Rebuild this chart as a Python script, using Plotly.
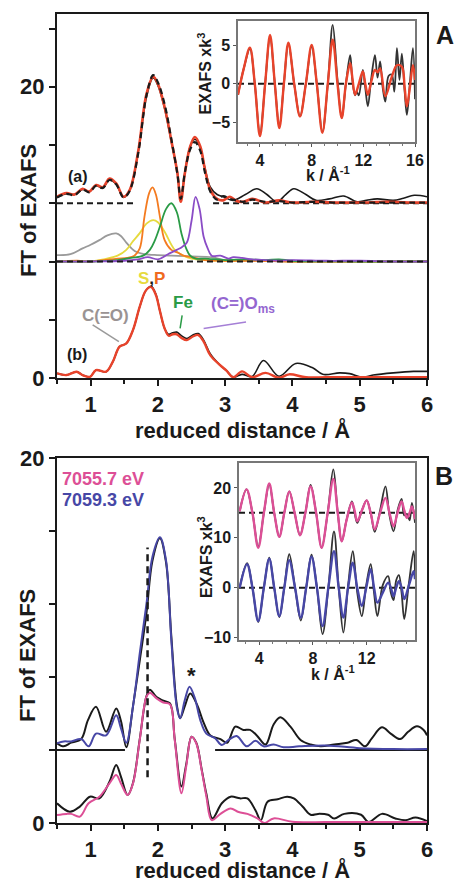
import plotly.graph_objects as go

# ---------------- DATA ----------------
# Panel A main (reduced distance / Å)
r_a_fit = [0.5, 0.64, 0.76, 0.88, 0.98, 1.08, 1.18, 1.28, 1.38, 1.49, 1.58, 1.71, 1.83, 1.93, 2.0, 2.1, 2.2, 2.29, 2.34, 2.4,
           2.48, 2.55, 2.63, 2.7, 2.78, 2.88, 2.97, 3.07, 3.17, 3.27, 3.4, 3.6, 3.8, 4.0, 4.3, 4.6, 5.0, 5.4, 5.8, 6.0]
fit_a = [12.45, 12.7, 12.6, 13.0, 12.8, 13.25, 13.1, 13.7, 13.36, 12.45, 12.9, 15.65, 19.5, 20.7, 20.2, 18.6, 16.3, 14.05, 12.1, 14.05,
         15.9, 16.55, 15.9, 14.3, 12.9, 12.3, 12.2, 12.45, 12.15, 12.1, 12.3, 12.05, 12.2, 12.05, 12.1, 12.05, 12.05, 12.1, 12.05, 12.05]
dfit_a = [12.4, 12.65, 12.55, 12.95, 12.75, 13.2, 13.05, 13.6, 13.3, 12.4, 12.85, 15.5, 19.4, 20.8, 20.3, 18.8, 16.4, 14.0, 12.3, 14.1,
          15.7, 16.2, 15.6, 14.1, 12.8, 12.25, 12.5, 12.3, 12.2, 12.1, 12.25, 12.1, 12.15, 12.05, 12.1, 12.05, 12.05, 12.05, 12.05, 12.05]
r_a_dat = [0.5, 0.64, 0.76, 0.88, 0.98, 1.08, 1.18, 1.28, 1.38, 1.49, 1.58, 1.71, 1.83, 1.93, 2.0, 2.1, 2.2, 2.29, 2.34, 2.4,
           2.48, 2.55, 2.63, 2.7, 2.78, 2.88, 2.97, 3.12, 3.3, 3.47, 3.62, 3.77, 3.9, 4.02, 4.2, 4.35, 4.55, 4.76, 4.96, 5.1,
           5.26, 5.5, 5.65, 5.81, 6.0]
dat_a = [12.4, 12.65, 12.6, 12.95, 12.8, 13.2, 13.05, 13.6, 13.3, 12.4, 12.9, 15.6, 19.3, 20.6, 20.1, 18.5, 16.2, 14.1, 12.2, 14.1,
         15.9, 16.4, 15.8, 14.4, 13.1, 12.6, 12.45, 12.2, 12.6, 13.0, 12.6, 12.1, 12.6, 13.0, 12.6, 12.2, 12.3, 12.5, 12.1, 12.2,
         12.3, 12.2, 12.35, 12.55, 12.45]

# components (offset 8)
r_or = [0.5, 0.8, 1.0, 1.2, 1.4, 1.55, 1.65, 1.73, 1.8, 1.87, 1.92, 1.97, 2.03, 2.1, 2.2, 2.3, 2.38, 2.5, 2.7, 3.0, 3.5, 4.0, 5.0, 6.0]
v_or = [8.0, 8.05, 8.0, 8.1, 8.2, 8.25, 8.4, 8.9, 11.07, 12.7, 13.09, 12.6, 11.07, 9.47, 8.8, 8.6, 8.4, 8.3, 8.1, 8.05, 8.05, 8.0, 8.0, 8.0]
r_ye = [0.5, 1.0, 1.2, 1.4, 1.53, 1.63, 1.73, 1.83, 1.93, 2.0, 2.1, 2.25, 2.38, 2.5, 2.7, 3.0, 3.5, 4.0, 5.0, 6.0]
v_ye = [8.0, 8.0, 8.15, 8.4, 8.8, 9.4, 9.95, 10.6, 10.84, 10.7, 10.04, 8.8, 8.4, 8.2, 8.1, 8.05, 8.1, 8.0, 8.0, 8.0]
r_gr = [0.5, 1.0, 1.4, 1.6, 1.78, 1.88, 1.95, 2.03, 2.12, 2.2, 2.28, 2.35, 2.42, 2.48, 2.56, 2.7, 3.0, 3.3, 3.6, 3.8, 4.0, 5.0, 6.0]
v_gr = [8.0, 8.0, 8.1, 8.25, 8.4, 8.8, 9.4, 10.4, 11.6, 12.0, 11.4, 9.93, 8.9, 8.4, 8.2, 8.2, 8.1, 8.15, 8.1, 8.15, 8.05, 8.0, 8.0]
r_pu = [0.5, 1.0, 1.5, 1.7, 1.85, 2.0, 2.15, 2.28, 2.36, 2.43, 2.5, 2.56, 2.62, 2.68, 2.74, 2.8, 2.93, 3.05, 3.12, 3.25,
        3.4, 3.6, 3.8, 4.0, 4.5, 5.0, 5.5, 6.0]
v_pu = [8.0, 8.0, 8.05, 8.15, 8.3, 8.15, 8.5, 8.8, 9.0, 9.3, 10.8, 12.44, 11.6, 9.7, 8.9, 8.4, 8.4, 8.2, 8.3, 8.25,
        8.15, 8.1, 8.05, 8.1, 8.05, 8.05, 8.0, 8.0]
r_gy = [0.5, 0.7, 0.88, 1.0, 1.13, 1.25, 1.38, 1.45, 1.53, 1.66, 1.8, 1.95, 2.2, 2.5, 2.8, 3.0, 3.5, 4.0, 6.0]
v_gy = [8.44, 8.5, 8.9, 9.15, 9.47, 9.8, 9.93, 9.75, 9.3, 8.7, 8.5, 8.45, 8.4, 8.35, 8.3, 8.1, 8.05, 8.0, 8.0]

# curve (b)
r_b_fit = [0.5, 0.64, 0.79, 0.88, 0.99, 1.08, 1.23, 1.33, 1.43, 1.53, 1.63, 1.73, 1.82, 1.9, 1.97, 2.03, 2.1, 2.16, 2.22, 2.28,
           2.35, 2.43, 2.52, 2.6, 2.68, 2.78, 2.92, 3.02, 3.12, 3.25, 3.4, 3.6, 3.8, 3.95, 4.2, 4.5, 5.0, 5.5, 6.0]
fit_b = [0.32, 0.2, 0.43, 0.2, 0.08, 0.54, 0.43, 1.12, 2.15, 2.37, 3.3, 4.9, 6.0, 6.25, 5.7, 4.6, 3.4, 2.9, 3.0, 3.0,
         2.75, 2.6, 2.85, 2.95, 2.5, 1.55, 0.9, 0.5, 0.05, 0.45, 0.05, 0.35, 0.02, 0.25, 0.05, 0.05, 0.05, 0.05, 0.05]
r_b_dat = [0.5, 0.64, 0.79, 0.88, 0.99, 1.08, 1.23, 1.33, 1.43, 1.53, 1.63, 1.73, 1.82, 1.9, 1.97, 2.03, 2.1, 2.16, 2.22, 2.28,
           2.35, 2.43, 2.52, 2.6, 2.68, 2.78, 2.92, 3.02, 3.12, 3.25, 3.4, 3.57, 3.8, 4.05, 4.3, 4.45, 4.7, 4.85, 5.03, 5.2,
           5.5, 5.8, 6.0]
dat_b = [0.32, 0.2, 0.43, 0.2, 0.08, 0.54, 0.43, 1.12, 2.15, 2.37, 3.3, 4.9, 6.0, 6.3, 5.75, 4.6, 3.4, 3.0, 3.1, 3.15,
         2.9, 2.7, 2.95, 3.05, 2.6, 1.65, 0.9, 0.5, 0.05, 0.25, 0.1, 1.2, 0.12, 1.0, 0.7, 0.25, 0.35, 0.3, 0.05, 0.2,
         0.35, 0.45, 0.45]

# baselines / leader lines (panel A)
base_a_up = 12
base_a_up_r1 = [0.5, 1.63]
base_a_up_r2 = [2.82, 6.0]
base_a_comp = 8
base_a_comp_r = [0.5, 6.0]
lead_co_r, lead_co_v = [1.03, 1.42], [3.64, 2.5]
lead_fe_r, lead_fe_v = [2.36, 2.33], [4.3, 3.4]
lead_ms_r, lead_ms_v = [3.31, 2.68], [3.85, 3.4]

# Inset A (k / Å^-1)
k_a_fit = [2.3, 2.75, 3.22, 3.6, 4.0, 4.4, 4.78, 5.15, 5.5, 5.85, 6.2, 6.65, 7.1, 7.55, 8.0, 8.4, 8.83, 9.25, 9.63, 10.0,
           10.33, 10.65, 10.98, 11.15, 11.36, 11.65, 11.96, 12.15, 12.35, 12.6, 12.9, 13.1, 13.3, 13.7, 14.2, 14.6, 14.98,
           15.2, 15.37, 15.6, 15.84, 16.0]
exafs_a_fit = [-1.4, 2.0, 4.66, 0.0, -6.75, 0.0, 6.3, 0.0, -5.7, 0.0, 5.3, 0.0, -4.2, 0.0, 5.0, 0.0, -6.3, 0.0, 5.7, 0.0,
               -4.4, 0.0, 2.65, 0.8, -1.4, 0.0, 1.6, 0.0, -1.4, 0.2, 1.8, 1.5, 2.0, -1.6, 0.9, 2.4, 2.2, -0.5, -2.9, -0.5,
               2.4, 0.5]
k_a_dat = [2.3, 2.75, 3.22, 3.6, 4.0, 4.4, 4.78, 5.15, 5.5, 5.85, 6.2, 6.65, 7.1, 7.55, 8.0, 8.4, 8.83, 9.25, 9.63, 10.0,
           10.33, 10.65, 10.98, 11.15, 11.36, 11.5, 11.65, 11.96, 12.15, 12.35, 12.6, 12.9, 13.1, 13.3, 13.5, 13.7, 13.95,
           14.2, 14.4, 14.6, 14.8, 14.98, 15.2, 15.37, 15.6, 15.84, 16.0]
exafs_a_dat = [-1.4, 2.0, 4.5, 0.0, -6.5, 0.0, 6.1, 0.0, -5.5, 0.0, 5.2, 0.0, -4.2, 0.0, 4.8, 0.0, -6.2, 0.0, 7.6, 0.5,
               -4.4, 0.0, 3.7, 0.5, -1.5, -1.0, -1.5, 1.8, -0.5, -2.9, 0.5, 3.7, 0.8, 2.9, -0.5, -2.3, 1.0, 1.2, -1.0, 4.6,
               0.5, 3.9, -1.0, -4.0, 0.0, 4.6, -2.0]
inset_a_zero_k = [2.3, 16.0]

# Panel B main
r_up = [0.5, 0.6, 0.71, 0.86, 0.97, 1.08, 1.23, 1.38, 1.45, 1.53, 1.63, 1.73, 1.83, 1.92, 2.03, 2.12, 2.2, 2.28, 2.33, 2.4,
        2.47, 2.55, 2.63, 2.72, 2.85, 2.95, 3.05, 3.17, 3.32, 3.45, 3.57, 3.72, 3.87, 4.1, 4.5, 5.0, 5.5, 6.0]
blue_up = [4.37, 4.47, 4.47, 4.6, 4.2, 4.9, 4.8, 5.9, 5.2, 4.4, 6.4, 9.3, 12.0, 14.6, 15.65, 14.4, 10.0, 6.37, 5.74, 6.74,
           7.47, 6.83, 5.64, 4.9, 4.64, 4.27, 4.55, 4.77, 4.2, 4.5, 4.2, 4.3, 4.15, 4.2, 4.25, 4.1, 4.05, 4.05]
r_up_dat = [0.5, 0.6, 0.71, 0.86, 0.96, 1.08, 1.23, 1.38, 1.45, 1.53, 1.63, 1.73, 1.83, 1.92, 2.03, 2.12, 2.2, 2.28, 2.33, 2.4,
            2.48, 2.58, 2.68, 2.78, 2.93, 3.03, 3.15, 3.27, 3.37, 3.47, 3.6, 3.72, 3.82, 3.97, 4.12, 4.27, 4.42, 4.62, 4.82,
            4.95, 5.08, 5.18, 5.33, 5.46, 5.6, 5.72, 5.85, 5.95, 6.0]
black_up = [4.37, 4.2, 4.4, 4.6, 5.64, 6.37, 5.0, 6.28, 5.6, 4.15, 6.4, 8.9, 11.5, 14.4, 15.6, 14.3, 10.2, 6.5, 5.74, 6.4,
            7.1, 6.5, 5.5, 4.8, 4.6, 4.4, 5.28, 5.1, 5.1, 4.8, 4.3, 5.4, 5.79, 5.28, 4.55, 4.3, 4.2, 4.3, 4.4,
            4.55, 4.2, 4.64, 5.24, 4.9, 4.6, 5.0, 5.3, 5.1, 4.8]
r_lo = [0.5, 0.64, 0.71, 0.84, 0.97, 1.13, 1.28, 1.38, 1.45, 1.55, 1.63, 1.73, 1.83, 1.88, 1.98, 2.08, 2.18, 2.25, 2.35, 2.42,
        2.5, 2.57, 2.65, 2.72, 2.8, 2.93, 3.08, 3.2, 3.33, 3.48, 3.58, 3.72, 4.0, 4.5, 5.0, 5.5, 6.0]
pink_lo = [0.44, 0.5, 0.5, 0.35, 1.08, 1.44, 2.17, 2.63, 2.17, 1.53, 2.17, 4.55, 6.92, 7.14, 6.83, 6.6, 6.5, 4.55, 1.63, 3.08,
           4.73, 4.37, 2.9, 1.46, 0.16, 0.5, 0.8, 0.6, 0.5, 0.25, 0.0, 0.25, 0.07, 0.05, 0.05, 0.05, 0.05]
r_lo_dat = [0.5, 0.69, 0.84, 0.99, 1.13, 1.28, 1.38, 1.45, 1.55, 1.63, 1.73, 1.83, 1.88, 1.98, 2.08, 2.18, 2.25, 2.35, 2.42, 2.5,
            2.57, 2.65, 2.72, 2.81, 2.95, 3.08, 3.22, 3.33, 3.45, 3.53, 3.63, 3.78, 3.92, 4.02, 4.15, 4.27, 4.38, 4.53, 4.62,
            4.77, 5.02, 5.13, 5.33, 5.53, 5.68, 5.83, 6.0]
black_lo = [1.08, 0.62, 0.9, 1.44, 1.35, 2.26, 3.18, 2.54, 1.53, 2.2, 4.6, 6.95, 7.3, 6.9, 6.7, 6.55, 4.6, 2.0, 3.2, 4.73,
            4.4, 2.95, 1.6, 0.25, 1.08, 1.44, 1.35, 1.35, 0.7, 0.15, 1.17, 1.3, 1.44, 1.35, 0.9, 0.45, 0.5, 0.45, 0.25,
            0.5, 0.45, 0.05, 0.5, 0.25, 0.15, 0.3, 0.1]
base_b_up = 4
base_b_r1 = [0.5, 1.51]
base_b_r2 = [2.85, 6.0]
vline_b_r = [1.846, 1.846]
vline_b_v = [2.5, 15.1]

# Inset B
k_b_pink = [2.55, 3.06, 3.5, 3.93, 4.35, 4.75, 5.12, 5.5, 5.87, 6.24, 6.64, 7.04, 7.44, 7.83, 8.24, 8.65, 9.1, 9.52, 9.85, 10.15,
            10.5, 10.9, 11.1, 11.3, 11.65, 12.0, 12.3, 12.6, 13.0, 13.4, 13.7, 14.0, 14.3, 14.6, 14.8, 15.0, 15.2, 15.37, 15.6]
exafs_b_pink = [15.3, 19.7, 15.0, 8.0, 15.0, 20.9, 15.0, 10.2, 15.0, 19.3, 15.0, 10.5, 15.0, 20.3, 15.0, 8.0, 15.0, 21.8, 15.0, 9.3,
                13.5, 17.1, 15.5, 13.3, 15.5, 17.5, 15.0, 11.7, 15.0, 18.0, 15.0, 12.3, 15.0, 17.3, 15.5, 14.0, 15.0, 16.3, 13.7]
exafs_b_pink_dat = [15.3, 19.7, 15.0, 8.2, 15.0, 20.7, 15.0, 10.2, 15.0, 19.3, 15.0, 10.5, 15.0, 20.6, 15.0, 8.0, 15.0, 23.7, 15.0, 9.3,
                    13.5, 17.3, 15.0, 13.0, 15.5, 17.5, 15.0, 11.2, 15.5, 20.3, 14.5, 11.3, 15.5, 17.8, 14.5, 14.8, 13.5, 17.0, 13.0]
k_b_blue = [2.55, 3.1, 3.5, 3.93, 4.35, 4.75, 5.12, 5.5, 5.87, 6.24, 6.67, 7.1, 7.5, 7.9, 8.3, 8.72, 9.15, 9.57, 9.92, 10.27,
            10.62, 10.97, 11.3, 11.64, 11.97, 12.3, 12.55, 12.8, 13.2, 13.6, 13.8, 14.0, 14.2, 14.4, 14.6, 14.8, 15.15, 15.5, 15.6]
exafs_b_blue = [0.0, 4.7, 0.0, -6.7, 0.0, 5.8, 0.0, -5.7, 0.0, 5.5, 0.0, -6.0, 0.0, 6.2, 0.0, -7.7, 0.0, 7.3, 0.0, -6.0,
                0.0, 5.0, 0.0, -3.7, 0.0, 3.7, 0.0, -3.0, -1.0, 1.0, 0.0, -1.7, 0.0, 1.3, 0.0, -2.3, 0.5, 3.3, 1.7]
exafs_b_blue_dat = [0.0, 4.9, 0.0, -6.9, 0.0, 6.0, 0.0, -5.9, 0.0, 6.7, 0.0, -6.6, 0.0, 6.6, 0.0, -9.3, 0.0, 11.3, 0.0, -9.0,
                    0.5, 7.3, -1.0, -5.7, 0.5, 4.7, -1.0, -5.7, 0.5, 2.3, -1.0, -2.5, 1.5, 2.5, -1.0, -6.3, 1.0, 7.3, 2.0]
inset_b_k = [2.5, 15.6]
inset_b_levels = [15, 0]

# ---------------- STYLE ----------------
FONT = "'Liberation Sans', Arial, Helvetica, sans-serif"
BLACK = "#1a1a1a"
RED = "#E8432B"
ORANGE = "#F47B20"
YELLOW = "#E6DA3E"
GREEN = "#2A9B46"
PURPLE = "#8A4CC6"
GRAY = "#9A9A9A"
PINK = "#DD4F96"
BLUE = "#4747A6"
DASH = "6px,4px"

fig = go.Figure()


def add(x, y, color, width=2.0, dash=None, xa="x", ya="y", shape="spline"):
    fig.add_trace(go.Scatter(x=x, y=y, mode="lines",
                             line=dict(color=color, width=width, dash=dash, shape=shape),
                             xaxis=xa, yaxis=ya, showlegend=False, hoverinfo="skip"))


# Panel A main (x2, y2)
for rr, vv, cc in [(r_gy, v_gy, GRAY), (r_ye, v_ye, YELLOW), (r_or, v_or, ORANGE),
                   (r_gr, v_gr, GREEN), (r_pu, v_pu, PURPLE)]:
    add(rr, vv, cc, 1.8, xa="x2", ya="y2")
add(base_a_comp_r, [base_a_comp] * 2, BLACK, 2, DASH, "x2", "y2", "linear")
add(base_a_up_r1, [base_a_up] * 2, BLACK, 2, DASH, "x2", "y2", "linear")
add(base_a_up_r2, [base_a_up] * 2, BLACK, 2, DASH, "x2", "y2", "linear")
add(r_a_dat, dat_a, BLACK, 1.6, None, "x2", "y2")
add(r_a_fit, fit_a, RED, 2.6, None, "x2", "y2")
add(r_a_fit, dfit_a, BLACK, 2.2, DASH, "x2", "y2")
add(r_b_dat, dat_b, BLACK, 1.6, None, "x2", "y2")
add(r_b_fit, fit_b, RED, 2.4, None, "x2", "y2")
add(lead_co_r, lead_co_v, GRAY, 1.5, None, "x2", "y2", "linear")
add(lead_fe_r, lead_fe_v, GREEN, 1.5, None, "x2", "y2", "linear")
add(lead_ms_r, lead_ms_v, "#A57FD6", 1.5, None, "x2", "y2", "linear")

# Inset A (x3, y3)
add(inset_a_zero_k, [0, 0], BLACK, 2, DASH, "x3", "y3", "linear")
add(k_a_dat, exafs_a_dat, "#333333", 1.8, None, "x3", "y3")
add(k_a_fit, exafs_a_fit, RED, 2.4, None, "x3", "y3")

# Panel B main (x, y)
add(base_b_r1, [base_b_up] * 2, BLACK, 1.8, None, "x", "y", "linear")
add(base_b_r2, [base_b_up] * 2, BLACK, 1.8, None, "x", "y", "linear")
add(r_lo_dat, black_lo, BLACK, 2, None, "x", "y")
add(r_lo, pink_lo, PINK, 2, None, "x", "y")
add(r_up_dat, black_up, BLACK, 2, None, "x", "y")
add(r_up, blue_up, BLUE, 2, None, "x", "y")
add(vline_b_r, vline_b_v, BLACK, 2.5, "7px,5px", "x", "y", "linear")

# Inset B (x4, y4)
for lev in inset_b_levels:
    add(inset_b_k, [lev, lev], BLACK, 2, DASH, "x4", "y4", "linear")
add(k_b_pink, exafs_b_pink_dat, "#333333", 1.8, None, "x4", "y4")
add(k_b_pink, exafs_b_pink, PINK, 2.4, None, "x4", "y4")
add(k_b_blue, exafs_b_blue_dat, "#333333", 1.8, None, "x4", "y4")
add(k_b_blue, exafs_b_blue, BLUE, 2.4, None, "x4", "y4")

# ---------------- AXES ----------------
big = dict(family=FONT, size=22, color=BLACK, weight="bold")
small = dict(family=FONT, size=16, color=BLACK, weight="bold")

main_x = dict(range=[0.5, 6], tickvals=[1, 2, 3, 4, 5, 6], ticks="outside", ticklen=6, tickwidth=2,
              tickcolor=BLACK, showline=True, linewidth=2, linecolor=BLACK, mirror=True,
              showgrid=False, zeroline=False, tickfont=big, automargin=False,
              minor=dict(tick0=0.5, dtick=0.5, ticks="outside", ticklen=4, tickwidth=1.5, tickcolor=BLACK))
main_y = dict(ticks="outside", ticklen=6, tickwidth=2, tickcolor=BLACK, showline=True, linewidth=2,
              linecolor=BLACK, mirror=True, showgrid=False, zeroline=False, tickfont=big, automargin=False)
inset_x = dict(ticks="outside", ticklen=3, tickwidth=1, tickcolor="#555", showline=True, linewidth=1.5,
               linecolor="#777", mirror=True, showgrid=False, zeroline=False, tickfont=small, automargin=False,
               minor=dict(dtick=1, ticks="outside", ticklen=2, tickcolor="#777"))
inset_y = dict(ticks="outside", ticklen=3, tickwidth=1, tickcolor="#555", showline=True, linewidth=1.5,
               linecolor="#777", mirror=True, showgrid=False, zeroline=False, tickfont=small, automargin=False)

fig.update_layout(
    template="none",
    width=456, height=886, autosize=False,
    margin=dict(l=57, r=29, t=14, b=63, pad=0),
    paper_bgcolor="white", plot_bgcolor="white",
    font=dict(family=FONT, color=BLACK),
    xaxis=dict(main_x, domain=[0, 1], anchor="y"),
    yaxis=dict(main_y, domain=[0, 0.4512], anchor="x", range=[0, 20],
               tickvals=[0, 4, 8, 12, 16, 20], ticktext=["0", " ", " ", " ", " ", "20"]),
    xaxis2=dict(main_x, domain=[0, 1], anchor="y2"),
    yaxis2=dict(main_y, domain=[0.5501, 1], anchor="x2", range=[0, 25],
                tickvals=[0, 4, 8, 12, 16, 20, 24], ticktext=["0", " ", " ", " ", " ", "20", " "]),
    xaxis3=dict(inset_x, domain=[0.4892, 0.9676], anchor="y3", range=[2.3, 16], tickvals=[4, 8, 12, 16]),
    yaxis3=dict(inset_y, domain=[0.8418, 0.9913], anchor="x3", range=[-7.5, 8.1], tickvals=[-5, 0, 5]),
    xaxis4=dict(inset_x, domain=[0.4919, 0.9676], anchor="y4", range=[2.5, 15.6], tickvals=[4, 8, 12]),
    yaxis4=dict(inset_y, domain=[0.2262, 0.4450], anchor="x4", range=[-10.5, 25], tickvals=[-10, 0, 10, 20]),
)

# ---------------- TEXT ----------------
ann = []


def pa(text, x, y, size=22, color=BLACK, angle=0, xanchor="center"):
    ann.append(dict(text=text, x=x, y=y, xref="paper", yref="paper", showarrow=False, textangle=angle,
                    xanchor=xanchor, yanchor="middle",
                    font=dict(family=FONT, size=size, color=color, weight="bold")))


def da(text, x, y, xr, yr, size=17, color=BLACK, xanchor="center"):
    ann.append(dict(text=text, x=x, y=y, xref=xr, yref=yr, showarrow=False, xanchor=xanchor, yanchor="middle",
                    font=dict(family=FONT, size=size, color=color, weight="bold")))


pa("FT of EXAFS", -0.0784, 0.7577, 22, angle=-90)
pa("FT of EXAFS", -0.0784, 0.2077, 22, angle=-90)
pa("reduced distance / Å", 0.5, 0.4855, 22)
pa("reduced distance / Å", 0.5, -0.058, 22)
pa("A", 1.049, 0.974, 25)
pa("B", 1.047, 0.429, 25)
pa("EXAFS xk<sup>3</sup>", 0.4, 0.9265, 16, angle=-90)
pa("EXAFS xk<sup>3</sup>", 0.4, 0.3288, 16, angle=-90)
pa("k / Å<sup>-1</sup>", 0.7324, 0.8022, 16)
pa("k / Å<sup>-1</sup>", 0.746, 0.1854, 16)

da("(a)", 0.81, 13.85, "x2", "y2", 16)
da("(b)", 0.79, 1.58, "x2", "y2", 16)
da("C(=O)", 1.22, 4.3, "x2", "y2", 17, "#9A9393")
da("<span style='color:%s'>S</span>,<span style='color:%s'>P</span>" % (YELLOW, "#F06A1E"),
   1.91, 6.85, "x2", "y2", 17)
da("Fe", 2.37, 5.15, "x2", "y2", 17, GREEN)
da("(C=)O<sub>ms</sub>", 2.76, 5.0, "x2", "y2", 17, "#9466D0", xanchor="left")
da("*", 2.5, 8.1, "x", "y", 22)
da("7055.7 eV", 0.55, 18.85, "x", "y", 18, PINK, xanchor="left")
da("7059.3 eV", 0.55, 17.7, "x", "y", 18, BLUE, xanchor="left")

fig.update_layout(annotations=ann)

fig.write_html("out.html", config={"displayModeBar": False},
               post_script="document.body.style.margin='0';")
